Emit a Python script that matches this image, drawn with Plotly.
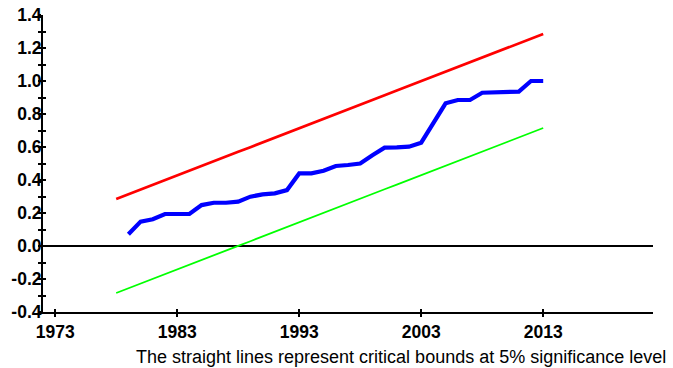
import plotly.graph_objects as go

years_bounds = list(range(1978, 2014))
upper_bound = [0.285, 0.314, 0.342, 0.371, 0.399, 0.428, 0.456, 0.485, 0.514, 0.542,
               0.571, 0.599, 0.628, 0.656, 0.685, 0.714, 0.742, 0.771, 0.799, 0.828,
               0.856, 0.885, 0.914, 0.942, 0.971, 0.999, 1.028, 1.056, 1.085, 1.114,
               1.142, 1.171, 1.199, 1.228, 1.256, 1.285]
lower_bound = [-0.285, -0.256, -0.228, -0.199, -0.171, -0.142, -0.114, -0.085, -0.056, -0.028,
               0.001, 0.029, 0.058, 0.086, 0.115, 0.144, 0.172, 0.201, 0.229, 0.258,
               0.286, 0.315, 0.344, 0.372, 0.401, 0.429, 0.458, 0.486, 0.515, 0.544,
               0.572, 0.601, 0.629, 0.658, 0.686, 0.715]

years_stat = list(range(1979, 2014))
cusumsq = [0.071, 0.148, 0.162, 0.194, 0.194, 0.194, 0.248, 0.262, 0.262, 0.269,
           0.299, 0.313, 0.319, 0.339, 0.440, 0.440, 0.456, 0.485, 0.491, 0.500,
           0.550, 0.596, 0.598, 0.602, 0.626, 0.745, 0.865, 0.885, 0.885, 0.929,
           0.931, 0.934, 0.936, 1.000, 1.000]

x_ticks = [1973, 1983, 1993, 2003, 2013]
y_ticks = [-0.4, -0.2, 0.0, 0.2, 0.4, 0.6, 0.8, 1.0, 1.2, 1.4]
y_labels = ["-0.4", "-0.2", "0.0", "0.2", "0.4", "0.6", "0.8", "1.0", "1.2", "1.4"]
caption = "The straight lines represent critical bounds at 5% significance level"

fig = go.Figure()
fig.add_trace(go.Scatter(x=years_bounds, y=upper_bound, mode="lines",
                         line=dict(color="#ff0000", width=2.7), showlegend=False))
fig.add_trace(go.Scatter(x=years_bounds, y=lower_bound, mode="lines",
                         line=dict(color="#00ff00", width=1.8), showlegend=False))
fig.add_trace(go.Scatter(x=years_stat, y=cusumsq, mode="lines",
                         line=dict(color="#0000ff", width=4.2), showlegend=False))

tickfont = dict(family="Liberation Sans, Arial, sans-serif", size=17.5, color="black", weight="bold")

fig.update_layout(
    width=673, height=368,
    margin=dict(l=43, r=20, t=15, b=56),
    paper_bgcolor="white", plot_bgcolor="white",
    font=dict(family="Liberation Sans, Arial, sans-serif", color="black"),
    xaxis=dict(range=[1972, 2022], tickvals=x_ticks, ticktext=[str(v) for v in x_ticks],
               showgrid=False, zeroline=False, showline=True, linecolor="black", linewidth=2,
               ticks="outside", ticklen=3, tickwidth=1.5, tickcolor="black",
               tickfont=tickfont, automargin=False),
    yaxis=dict(range=[-0.4, 1.4], tickvals=y_ticks, ticktext=y_labels,
               showgrid=False, zeroline=True, zerolinecolor="black", zerolinewidth=2,
               showline=True, linecolor="black", linewidth=2,
               ticks="outside", ticklen=3, tickwidth=1.5, tickcolor="black",
               ticklabelstandoff=-7, automargin=False,
               minor=dict(dtick=0.1, ticks="outside", ticklen=3, tickwidth=1.5, tickcolor="black"),
               tickfont=tickfont),
    xaxis2=dict(range=[1972, 2022], overlaying="x", anchor="y", side="bottom",
                tickvals=x_ticks, showticklabels=False, showgrid=False, zeroline=False,
                showline=False, ticks="inside", ticklen=3, tickwidth=1.5, tickcolor="black"),
    yaxis2=dict(range=[-0.4, 1.4], overlaying="y", anchor="x", side="left",
                tickvals=y_ticks, showticklabels=False, showgrid=False, zeroline=False,
                showline=False, ticks="inside", ticklen=3, tickwidth=1.5, tickcolor="black",
                minor=dict(dtick=0.1, ticks="inside", ticklen=3, tickwidth=1.5, tickcolor="black")),
    annotations=[dict(text=caption, xref="paper", yref="paper", x=1.0246, y=-0.1515,
                      xanchor="right", yanchor="middle", showarrow=False,
                      font=dict(family="Liberation Sans, Arial, sans-serif", size=18, color="black"))],
)
fig.add_trace(go.Scatter(x=[1972], y=[-0.4], xaxis="x2", yaxis="y2", mode="markers",
                         marker=dict(opacity=0), showlegend=False, hoverinfo="skip"))

fig.write_html("out.html", config={"displayModeBar": False},
               post_script="document.body.style.margin='0';document.body.style.overflow='hidden';")
